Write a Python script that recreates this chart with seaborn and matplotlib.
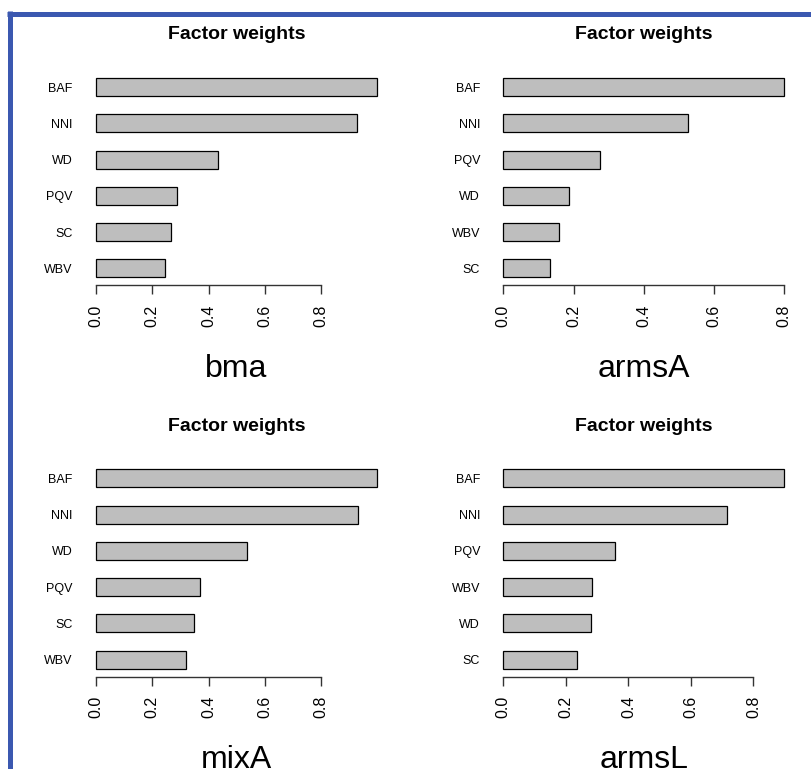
import matplotlib
matplotlib.use("Agg")
import matplotlib.pyplot as plt
import seaborn as sns
import pandas as pd
from matplotlib.lines import Line2D

sns.set_style("white")
plt.rcParams["font.family"] = ["Liberation Sans", "DejaVu Sans"]
plt.rcParams["text.color"] = "black"
plt.rcParams["xtick.color"] = "black"
plt.rcParams["ytick.color"] = "black"

# ------------------------
# DATA
# ------------------------
bma_factors = ["BAF", "NNI", "WD", "PQV", "SC", "WBV"]
bma_weights = [0.998, 0.928, 0.434, 0.286, 0.265, 0.244]

armsA_factors = ["BAF", "NNI", "PQV", "WD", "WBV", "SC"]
armsA_weights = [0.800, 0.525, 0.274, 0.187, 0.159, 0.134]

mixA_factors = ["BAF", "NNI", "WD", "PQV", "SC", "WBV"]
mixA_weights = [0.998, 0.930, 0.537, 0.370, 0.348, 0.319]

armsL_factors = ["BAF", "NNI", "PQV", "WBV", "WD", "SC"]
armsL_weights = [0.899, 0.715, 0.357, 0.283, 0.281, 0.236]

model_names = ["bma", "armsA", "mixA", "armsL"]
ticks = [0.0, 0.2, 0.4, 0.6, 0.8]

paineis = [
    (bma_factors, bma_weights),
    (armsA_factors, armsA_weights),
    (mixA_factors, mixA_weights),
    (armsL_factors, armsL_weights),
]

W, H = 811, 769
fig = plt.figure(figsize=(W / 100, H / 100), dpi=100)

# plot regions in pixels (left, top, width, height)
regioes = [
    (84.8, 70.0, 303.5, 215.4),
    (492.1, 70.0, 303.5, 215.4),
    (84.8, 461.3, 303.5, 215.4),
    (492.1, 461.3, 303.5, 215.4),
]

for (fatores, pesos), nome, (l, t, w, h) in zip(paineis, model_names, regioes):
    ax = fig.add_axes([l / W, 1 - (t + h) / H, w / W, h / H])
    df = pd.DataFrame({"fator": fatores, "peso": pesos})
    sns.barplot(data=df, x="peso", y="fator", orient="h", color="#bebebe",
                saturation=1, width=0.5, edgecolor="black", linewidth=0.9, ax=ax)

    xmax = max(pesos)
    ax.set_xlim(-0.04 * xmax, 1.04 * xmax)
    ax.set_ylim(5.47, -0.47)

    for s in ["top", "right", "left"]:
        ax.spines[s].set_visible(False)
    ax.spines["bottom"].set_bounds(0, 0.8)
    ax.spines["bottom"].set_color("#333333")
    ax.spines["bottom"].set_linewidth(1.0)

    ax.set_xticks(ticks)
    ax.set_xticklabels([f"{v:.1f}" for v in ticks], rotation=90, fontsize=11.5)
    ax.tick_params(axis="x", direction="out", length=6.7, width=1.0,
                   color="#333333", labelcolor="black", pad=7, bottom=True)
    ax.tick_params(axis="y", length=0, pad=8.7, labelsize=9, labelcolor="black")

    ax.set_xlabel("")
    ax.set_ylabel("")
    ax.set_title("Factor weights", fontsize=14, fontweight="bold", pad=22,
                 color="black")
    ax.text(0.5, -0.425, nome, transform=ax.transAxes, ha="center",
            va="baseline", fontsize=23, color="black")

# moldura azul (esquerda e topo)
cor = "#3b58b0"
fig.add_artist(Line2D([9.8 / W, 9.8 / W], [0, 1 - 11 / H], color=cor,
                      linewidth=3.6, solid_capstyle="butt"))
fig.add_artist(Line2D([7.3 / W, 1], [1 - 13.5 / H, 1 - 13.5 / H], color=cor,
                      linewidth=3.6, solid_capstyle="butt"))

plt.savefig("out.png", dpi=100)
